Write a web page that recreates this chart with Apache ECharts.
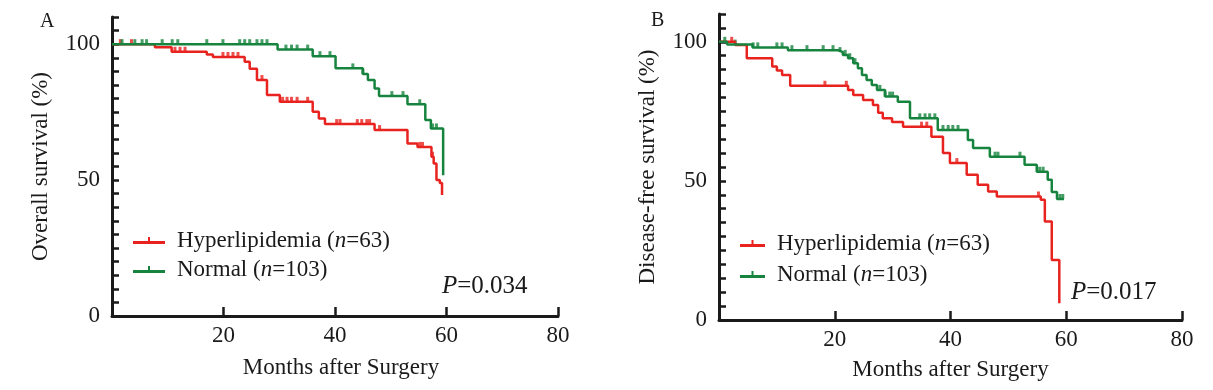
<!DOCTYPE html>
<html>
<head>
<meta charset="utf-8">
<script src="https://cdn.jsdelivr.net/npm/echarts@6/dist/echarts.min.js"></script>
<style>html,body{margin:0;padding:0;background:#fff}#c{width:1213px;height:390px}</style>
</head>
<body>
<div id="c"></div>
<script>
// ---- Data ----
// Kaplan-Meier step points [month, survival %]
const osHyper = [[0,100],[7.7,98.9],[10.7,97.2],[17,96.2],[18.1,95.3],[23.8,93.5],[24.7,91.0],[26,86.8],[27.8,81.3],[30.1,78.8],[36,75.1],[37.1,72.7],[38.2,70.6],[47.1,68.4],[53,63.5],[54.8,62.2],[57.3,58.6],[57.7,56.1],[58.2,50],[58.8,48.9],[59.2,44.5]];
const osNormal = [[0,100],[29.7,98.0],[36,95.6],[40.1,91.1],[45,89],[45.9,86.8],[47.1,83.7],[47.9,80.9],[53,77.9],[56.2,72.1],[57.2,69],[59.4,51.8]];
const dfsHyper = [[0,100],[2.8,98.9],[4.8,94.1],[9.2,91.1],[10,89.7],[10.9,88.1],[12.3,84.2],[22.3,82.7],[23.2,80.9],[24.9,79.1],[26.6,77.3],[27.5,74.5],[28.3,72.5],[29.9,71.2],[31.8,69.5],[36.7,65.9],[38.7,60],[39.9,56.4],[42.8,52.2],[44.7,48.6],[46.5,46.2],[48,44.4],[55.6,43.2],[56.3,35.4],[57.5,21.6],[58.8,6]];
const dfsNormal = [[0,100],[1.4,99],[5.8,98],[11.9,97],[20.6,96.3],[21.4,95.3],[22.3,94.1],[23.2,92.3],[24,90.5],[24.7,88.1],[25.5,86.3],[26.4,84.5],[27.3,82.7],[28.7,80.3],[30.9,78.5],[33,72.5],[37.8,68.3],[43,64.7],[43.9,61.8],[46.8,58.7],[52.8,55.8],[54.9,53.3],[56.8,50.4],[57.5,46],[58.4,43.5],[59.6,43.5]];
// censored observation times (months)
const osHyperCens = [1.5,3.5,11.3,12.2,13.1,19.9,20.8,21.7,22.6,26.9,30.6,31.4,32.2,33.2,35.1,40.3,40.9,44,44.8,45.7,46.2,48,55.2,55.7,57.5];
const osNormalCens = [1.8,4.1,5.4,6.2,9.0,10.8,11.8,17.0,19.9,22.9,23.8,24.7,26.0,26.9,27.8,31.2,32.2,33.2,35.1,37.3,39.1,43.2,45,50.2,52.2,55.2,57.5,58.2];
const dfsHyperCens = [2.2,18.3,22,35,35.9,41.1,55.2];
const dfsNormalCens = [1,2.8,5.9,6.7,10,10.9,12.6,15.2,18,19.7,20.9,21.8,22.6,23.5,27.8,28.7,29.5,30,34.7,35.6,36.4,37.3,38.7,39.6,40.4,41.3,47.7,48.2,52,55.4,56,58.9,59.4];
// tick labels
const xTickLabels = [20,40,60,80];
const yTickLabels = [0,50,100];
const groupNames = ['Hyperlipidemia','Normal'];
const groupN = {Hyperlipidemia:63, Normal:103};
const pValues = ['0.034','0.017'];
const panelLabels = ['A','B'];

// ---- Chart ----
const F = '"Liberation Serif","Times New Roman",serif';
const RED = '#e8231f';
const GREEN = '#16843e';
const INK = '#1a1a1a';

function survAt(curve, t){
  let v = curve[0][1];
  for (const p of curve){ if (p[0] <= t) v = p[1]; else break; }
  return v;
}

function xAxisCfg(gi, gapName, pad){
  return {
    type:'value', gridIndex:gi, min:0, max:80, interval:20,
    axisLine:{show:true, onZero:false, lineStyle:{color:INK, width:3}},
    axisTick:{show:true, inside:true, length:9, lineStyle:{color:INK, width:2.5}},
    splitLine:{show:false},
    axisLabel:{formatter:v => xTickLabels.includes(v) ? String(v) : '', margin:8, fontSize:23, color:INK, fontFamily:F},
    name:'Months after Surgery', nameLocation:'middle', nameGap:gapName,
    nameTextStyle:{fontSize:23, color:INK, fontFamily:F, padding:pad}
  };
}
function yAxisCfg(gi, name){
  return {
    type:'value', gridIndex:gi, min:0, max:110, interval:5,
    axisLine:{show:true, onZero:false, lineStyle:{color:INK, width:3}},
    axisTick:{show:true, interval:0, inside:true, length:7, lineStyle:{color:INK, width:2.5}},
    splitLine:{show:false},
    axisLabel:{formatter:v => yTickLabels.includes(v) ? String(v) : '', margin:12, fontSize:23, color:INK, fontFamily:F},
    name:name, nameLocation:'middle', nameRotate:90, nameGap:60,
    nameTextStyle:{fontSize:23, color:INK, fontFamily:F}
  };
}
function lineSeries(name, gi, data, color){
  return {type:'line', name, xAxisIndex:gi, yAxisIndex:gi, data, step:'end', showSymbol:false,
    lineStyle:{color, width:2.5}, itemStyle:{color}, silent:true, animation:false};
}
function censSeries(gi, curve, times, color){
  return {type:'scatter', name:'censored', xAxisIndex:gi, yAxisIndex:gi,
    data: times.map(t => [t, survAt(curve, t)]),
    symbol:'rect', symbolSize:[3,5], symbolOffset:[0,-2.5],
    itemStyle:{color}, silent:true, animation:false};
}
function legendCfg(left, top, gap, path, w){
  return {
    orient:'vertical', left, top, itemGap:gap, itemWidth:w, itemHeight:8, icon:path,
    data:groupNames, selectedMode:false,
    itemStyle:{borderWidth:0},
    formatter: n => n + ' ({i|n}=' + groupN[n] + ')',
    textStyle:{fontSize:23, lineHeight:23, color:INK, fontFamily:F, padding:[0,0,0,7],
      rich:{i:{fontSize:23, fontStyle:'italic', fontFamily:F, color:INK}}}
  };
}

const chart = echarts.init(document.getElementById('c'), null, {renderer:'canvas'});
chart.setOption({
  animation:false,
  backgroundColor:'#fff',
  grid:[
    {left:112, top:17, width:446, height:299},
    {left:719, top:14, width:463, height:306}
  ],
  xAxis:[xAxisCfg(0, 40, [0,0,0,12]), xAxisCfg(1, 38, [0,0,0,0])],
  yAxis:[yAxisCfg(0, 'Overall survival (%)'), yAxisCfg(1, 'Disease-free survival (%)')],
  legend:[
    legendCfg(128, 224, 6, 'path://M0,5 H15 V1 H17 V5 H32 V8 H0 Z', 32),
    legendCfg(735, 227, 8, 'path://M0,5 H11.5 V1 H13.5 V5 H25 V8 H0 Z', 25)
  ],
  series:[
    lineSeries(groupNames[0], 0, osHyper, RED),
    censSeries(0, osHyper, osHyperCens, RED),
    lineSeries(groupNames[1], 0, osNormal, GREEN),
    censSeries(0, osNormal, osNormalCens, GREEN),
    lineSeries(groupNames[0], 1, dfsHyper, RED),
    censSeries(1, dfsHyper, dfsHyperCens, RED),
    lineSeries(groupNames[1], 1, dfsNormal, GREEN),
    censSeries(1, dfsNormal, dfsNormalCens, GREEN)
  ],
  graphic:[
    {type:'text', left:40, top:12, style:{text:panelLabels[0], font:'20px ' + F, fill:INK}},
    {type:'text', left:651, top:11, style:{text:panelLabels[1], font:'20px ' + F, fill:INK}},
    {type:'text', left:442, top:274, style:{text:'{i|P}=' + pValues[0], font:'25px ' + F, fill:INK,
      rich:{i:{fontStyle:'italic', fontSize:25, fontFamily:F, fill:INK}}}},
    {type:'text', left:1071, top:280, style:{text:'{i|P}=' + pValues[1], font:'25px ' + F, fill:INK,
      rich:{i:{fontStyle:'italic', fontSize:25, fontFamily:F, fill:INK}}}}
  ]
});
</script>
</body>
</html>
